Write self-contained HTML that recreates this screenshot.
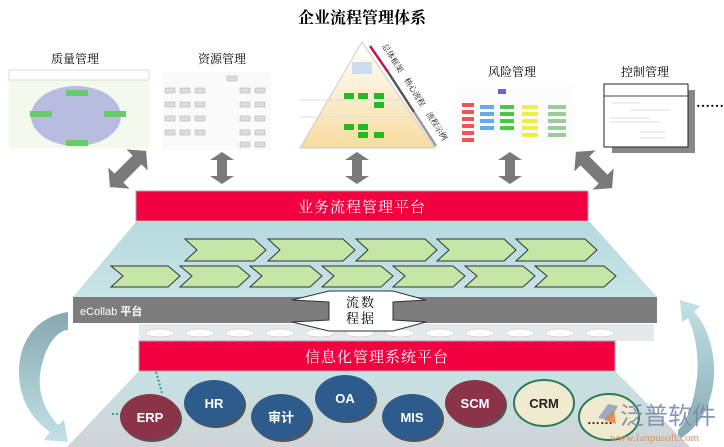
<!DOCTYPE html>
<html><head><meta charset="utf-8"><style>
html,body{margin:0;padding:0;background:#fff;width:724px;height:447px;overflow:hidden}
svg{display:block}
text{font-family:"Liberation Serif","Noto Serif CJK SC",serif}
.s{font-family:"Liberation Sans","Noto Sans CJK SC",sans-serif}
</style></head><body>
<svg width="724" height="447" viewBox="0 0 724 447" xmlns="http://www.w3.org/2000/svg">
<defs>
<linearGradient id="tl" x1="0" y1="0" x2="0" y2="1"><stop offset="0" stop-color="#b5dade"/><stop offset="1" stop-color="#c8e4e6"/></linearGradient>
<linearGradient id="bt" x1="0" y1="0" x2="0" y2="1"><stop offset="0" stop-color="#c6e2e4"/><stop offset="1" stop-color="#d0d4d6"/></linearGradient>
<linearGradient id="la" x1="0" y1="0" x2="0" y2="1"><stop offset="0" stop-color="#86a8b0"/><stop offset="1" stop-color="#c2e2e6"/></linearGradient>
<linearGradient id="ra" x1="0" y1="1" x2="0" y2="0"><stop offset="0" stop-color="#86a8b0"/><stop offset="1" stop-color="#c2e2e6"/></linearGradient>
<linearGradient id="py" x1="0" y1="0" x2="0" y2="1"><stop offset="0" stop-color="#fff"/><stop offset="1" stop-color="#f8dca0"/></linearGradient>
<polygon id="da" points="0,-16 12,-8 5,-8 5,8 12,8 0,16 -12,8 -5,8 -5,-8 -12,-8"/>
</defs>

<text x="362" y="23" font-size="16" font-weight="bold" text-anchor="middle">企业流程管理体系</text>

<text x="75" y="63" font-size="12" text-anchor="middle">质量管理</text>
<text x="222" y="63" font-size="12" text-anchor="middle">资源管理</text>
<text x="512" y="76" font-size="12" text-anchor="middle">风险管理</text>
<text x="645" y="76" font-size="12" text-anchor="middle">控制管理</text>

<rect x="9" y="70" width="140" height="78" fill="#f4f9ee"/>
<rect x="9" y="70" width="140" height="10" fill="#fff" stroke="#bbb" stroke-width="0.5"/>
<ellipse cx="76" cy="116" rx="45" ry="30" fill="#b8bce0"/>
<rect x="66" y="90" width="22" height="6" fill="#6c6"/><rect x="66" y="140" width="22" height="6" fill="#6c6"/>
<rect x="30" y="111" width="22" height="6" fill="#6c6"/><rect x="104" y="111" width="22" height="6" fill="#6c6"/>
<rect x="163" y="72" width="108" height="78" fill="#fafafa"/>
<g fill="#ddd" stroke="#aaa" stroke-width="0.5">
<rect x="165" y="88" width="10" height="5"/><rect x="180" y="88" width="10" height="5"/><rect x="195" y="88" width="10" height="5"/><rect x="240" y="88" width="10" height="5"/><rect x="255" y="88" width="10" height="5"/>
<rect x="165" y="102" width="10" height="5"/><rect x="180" y="102" width="10" height="5"/><rect x="195" y="102" width="10" height="5"/><rect x="240" y="102" width="10" height="5"/><rect x="255" y="102" width="10" height="5"/>
<rect x="165" y="116" width="10" height="5"/><rect x="180" y="116" width="10" height="5"/><rect x="195" y="116" width="10" height="5"/><rect x="240" y="116" width="10" height="5"/><rect x="255" y="116" width="10" height="5"/>
<rect x="165" y="130" width="10" height="5"/><rect x="180" y="130" width="10" height="5"/><rect x="195" y="130" width="10" height="5"/><rect x="240" y="130" width="10" height="5"/><rect x="255" y="130" width="10" height="5"/>
<rect x="227" y="76" width="10" height="5"/><rect x="240" y="142" width="10" height="5"/><rect x="255" y="142" width="10" height="5"/>
</g>
<polygon points="362,42 435,148 300,148" fill="url(#py)" stroke="#ccc"/>
<line x1="300" y1="100" x2="402" y2="100" stroke="#ddd"/>
<line x1="300" y1="117" x2="413" y2="117" stroke="#ddd"/>
<line x1="370" y1="46" x2="388" y2="72" stroke="#d0104a" stroke-width="2.5"/>
<line x1="388" y1="72" x2="414" y2="112" stroke="#555" stroke-width="2.5"/>
<line x1="414" y1="112" x2="436" y2="146" stroke="#999" stroke-width="2.5"/>
<g fill="#22bb22"><rect x="344" y="93" width="10" height="6"/><rect x="358" y="93" width="10" height="6"/><rect x="374" y="93" width="10" height="6"/><rect x="374" y="102" width="10" height="6"/>
<rect x="344" y="124" width="10" height="6"/><rect x="358" y="124" width="10" height="6"/><rect x="358" y="132" width="10" height="6"/><rect x="374" y="132" width="10" height="6"/></g>
<rect x="352" y="62" width="20" height="12" fill="#cde" />
<text font-size="8" transform="translate(382,46) rotate(58)">总体框架</text>
<text font-size="8" transform="translate(404,80) rotate(58)">核心流程</text>
<text font-size="8" transform="translate(426,114) rotate(58)">流程示例</text>
<rect x="455" y="86" width="118" height="60" fill="#fcfcfc"/>
<rect x="498" y="89" width="8" height="5" fill="#66c"/>
<g><rect x="462" y="103" width="12" height="4" fill="#e55"/><rect x="462" y="110" width="12" height="4" fill="#e55"/><rect x="462" y="117" width="12" height="4" fill="#e55"/><rect x="462" y="124" width="12" height="4" fill="#e55"/><rect x="462" y="131" width="12" height="4" fill="#e55"/><rect x="462" y="138" width="12" height="4" fill="#e55"/>
<rect x="480" y="105" width="14" height="4" fill="#6ae"/><rect x="480" y="112" width="14" height="4" fill="#6ae"/><rect x="480" y="119" width="14" height="4" fill="#6ae"/><rect x="480" y="126" width="14" height="4" fill="#6ae"/>
<rect x="500" y="105" width="14" height="4" fill="#4c4"/><rect x="500" y="112" width="14" height="4" fill="#4c4"/><rect x="500" y="119" width="14" height="4" fill="#4c4"/><rect x="500" y="126" width="14" height="4" fill="#4c4"/>
<rect x="522" y="105" width="16" height="4" fill="#ee4"/><rect x="522" y="112" width="16" height="4" fill="#ee4"/><rect x="522" y="119" width="16" height="4" fill="#ee4"/><rect x="522" y="126" width="16" height="4" fill="#ee4"/><rect x="522" y="133" width="16" height="4" fill="#ee4"/>
<rect x="548" y="105" width="18" height="4" fill="#9c9"/><rect x="548" y="112" width="18" height="4" fill="#9c9"/><rect x="548" y="119" width="18" height="4" fill="#9c9"/><rect x="548" y="126" width="18" height="4" fill="#9c9"/><rect x="548" y="133" width="18" height="4" fill="#9c9"/></g>
<rect x="612" y="90" width="83" height="63" fill="#888"/>
<rect x="604" y="84" width="84" height="63" fill="#fff" stroke="#222"/>
<line x1="604" y1="96" x2="688" y2="96" stroke="#444"/>
<g stroke="#bbb" stroke-width="0.6"><line x1="612" y1="103" x2="640" y2="103"/><line x1="630" y1="110" x2="670" y2="110"/><line x1="610" y1="118" x2="650" y2="118"/><line x1="610" y1="122" x2="660" y2="122"/><line x1="640" y1="132" x2="665" y2="132"/><line x1="640" y1="138" x2="665" y2="138"/></g>
<text x="696" y="107" font-size="14" font-weight="bold">……</text>

<g fill="#7a7a7a">
<use href="#da" transform="translate(222,168)"/>
<use href="#da" transform="translate(357,168)"/>
<use href="#da" transform="translate(510,168)"/>
<use href="#da" transform="translate(128,169) rotate(45) scale(1.25,1.6)"/>
<use href="#da" transform="translate(594,170) rotate(-45) scale(1.25,1.6)"/>
</g>

<path d="M68,312 C30,318 15,350 20,385 C24,410 40,425 50,432 L44,440 L68,442 L64,420 L58,425 C46,412 38,395 40,375 C44,345 58,330 68,330 Z" fill="url(#la)"/>
<path d="M678,440 C712,420 718,380 712,350 C708,330 700,318 694,312 L700,306 L680,300 L682,322 L688,318 C696,335 700,360 696,385 C692,410 684,425 678,430 Z" fill="url(#ra)"/>

<polygon points="136,222 590,222 657,297 73,297" fill="url(#tl)"/>
<g fill="#c6e6a8" stroke="#333" stroke-width="1">
<polygon points="185,239 254,239 266,250 254,261 185,261 197,250"/>
<polygon points="268,239 343,239 355,250 343,261 268,261 280,250"/>
<polygon points="356,239 425,239 437,250 425,261 356,261 368,250"/>
<polygon points="437,239 504,239 516,250 504,261 437,261 449,250"/>
<polygon points="516,239 585,239 597,250 585,261 516,261 528,250"/>
<polygon points="111,266 168,266 180,276 168,287 111,287 123,276"/>
<polygon points="180,266 238,266 250,276 238,287 180,287 192,276"/>
<polygon points="250,266 310,266 322,276 310,287 250,287 262,276"/>
<polygon points="322,266 381,266 393,276 381,287 322,287 334,276"/>
<polygon points="393,266 453,266 465,276 453,287 393,287 405,276"/>
<polygon points="465,266 523,266 535,276 523,287 465,287 477,276"/>
<polygon points="535,266 604,266 616,276 604,287 535,287 547,276"/>
</g>

<rect x="136" y="191" width="452" height="30" fill="#f2003f" stroke="#b0a0a8"/>
<text x="362" y="212" font-size="15" fill="#fff" text-anchor="middle" letter-spacing="1">业务流程管理平台</text>

<rect x="73" y="297" width="584" height="26" fill="#7d7d7d"/>
<text x="80" y="315" font-size="11" fill="#fff" class="s">eCollab <tspan font-weight="bold">平台</tspan></text>
<rect x="139" y="324" width="515" height="17" fill="#e4eaec"/>
<g fill="#fff" stroke="#bbb" stroke-width="0.5"><ellipse cx="160" cy="333" rx="14" ry="4"/><ellipse cx="200" cy="333" rx="14" ry="4"/><ellipse cx="240" cy="333" rx="14" ry="4"/><ellipse cx="280" cy="333" rx="14" ry="4"/><ellipse cx="320" cy="333" rx="14" ry="4"/><ellipse cx="360" cy="333" rx="14" ry="4"/><ellipse cx="400" cy="333" rx="14" ry="4"/><ellipse cx="440" cy="333" rx="14" ry="4"/><ellipse cx="480" cy="333" rx="14" ry="4"/><ellipse cx="520" cy="333" rx="14" ry="4"/><ellipse cx="560" cy="333" rx="14" ry="4"/><ellipse cx="600" cy="333" rx="14" ry="4"/></g>
<polygon points="292,300 329,291 393,291 426,300 393,302 393,320 426,322 393,331 329,331 292,322 329,320 329,302" fill="#fff" stroke="#333"/>
<text x="361" y="307" font-size="13" text-anchor="middle" letter-spacing="2">流数</text>
<text x="361" y="323" font-size="13" text-anchor="middle" letter-spacing="2">程据</text>

<polygon points="139,371 615,371 690,447 67,447" fill="url(#bt)"/>
<rect x="139" y="341" width="476" height="30" fill="#f2003f" stroke="#b0a0a8"/>
<text x="377" y="362" font-size="15" fill="#fff" text-anchor="middle" letter-spacing="1">信息化管理系统平台</text>
<path d="M156,372 L162,393 M112,414 L122,414" stroke="#2a9a9a" stroke-width="2" stroke-dasharray="2,2"/>

<g font-size="13" font-weight="bold" fill="#fff" text-anchor="middle" class="s">
<ellipse cx="152" cy="419" rx="30" ry="23" fill="#555"/><ellipse cx="150" cy="417" rx="30" ry="23" fill="#8b3348"/><text x="150" y="422" class="s" fill="#fff">ERP</text>
<ellipse cx="216" cy="405" rx="30" ry="23" fill="#555"/><ellipse cx="214" cy="403" rx="30" ry="23" fill="#2d5c8c"/><text x="214" y="408" class="s" fill="#fff">HR</text>
<ellipse cx="283" cy="419" rx="30" ry="23" fill="#555"/><ellipse cx="281" cy="417" rx="30" ry="23" fill="#2d5c8c"/><text x="281" y="422" class="s" fill="#fff">审计</text>
<ellipse cx="347" cy="400" rx="30" ry="23" fill="#555"/><ellipse cx="345" cy="398" rx="30" ry="23" fill="#2d5c8c"/><text x="345" y="403" class="s" fill="#fff">OA</text>
<ellipse cx="414" cy="419" rx="30" ry="23" fill="#555"/><ellipse cx="412" cy="417" rx="30" ry="23" fill="#2d5c8c"/><text x="412" y="422" class="s" fill="#fff">MIS</text>
<ellipse cx="477" cy="405" rx="30" ry="23" fill="#555"/><ellipse cx="475" cy="403" rx="30" ry="23" fill="#8b3348"/><text x="475" y="408" class="s" fill="#fff">SCM</text>
<ellipse cx="544" cy="403" rx="30" ry="23" fill="#efead0" stroke="#2a7a5a" stroke-width="2"/><text x="544" y="408" class="s" fill="#222">CRM</text>
<ellipse cx="609" cy="417" rx="30" ry="23" fill="#efead0" stroke="#2a7a5a" stroke-width="2"/><text x="600" y="424" class="s" fill="#222">……</text>
</g>

<path d="M598,418 L608,404 L618,406 L610,420 Z" fill="#8a9ab8" opacity="0.8"/>
<path d="M604,420 L614,410 L616,424 Z" fill="#e08040" opacity="0.8"/>
<text x="620" y="424" font-size="24" fill="#7a8cac" class="s" opacity="0.9">泛普软件</text>
<text x="610" y="441" font-size="11" fill="#e09060">www.fanpusoft.com</text>
</svg>
</body></html>
